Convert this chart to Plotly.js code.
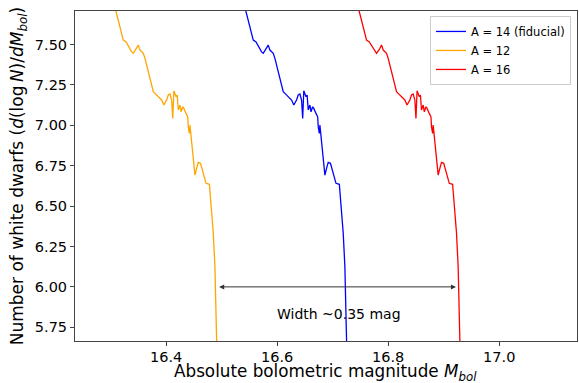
<!DOCTYPE html>
<html>
<head>
<meta charset="utf-8">
<script src="https://cdn.plot.ly/plotly-3.0.1.min.js"></script>
<style>html,body{margin:0;padding:0;background:#fff;}#chart{width:579px;height:383px;}</style>
</head>
<body>
<div id="chart"></div>
<script>
// Luminosity function curves (M_bol, d(logN)/dM_bol)
const yVals = [7.757,7.528,7.517,7.455,7.446,7.470,7.497,7.466,7.446,7.415,7.332,7.291,7.260,7.208,7.198,7.177,7.157,7.126,7.157,7.188,7.194,7.157,7.043,7.214,7.177,7.188,7.095,7.126,7.084,7.115,7.105,7.074,7.053,6.991,6.950,7.002,6.889,6.785,6.692,6.734,6.771,6.765,6.703,6.641,6.635,6.542,6.476,6.334,6.125,5.919,5.600];

const xA12 = [16.306,16.323,16.328,16.338,16.341,16.346,16.350,16.353,16.359,16.362,16.368,16.371,16.374,16.377,16.380,16.386,16.392,16.396,16.401,16.404,16.407,16.410,16.412,16.414,16.418,16.420,16.422,16.425,16.427,16.430,16.432,16.436,16.439,16.440,16.442,16.443,16.446,16.449,16.452,16.455,16.458,16.462,16.467,16.472,16.478,16.4805,16.482,16.485,16.488,16.490,16.4915];
const yA12 = yVals;

const xA14 = [16.540,16.557,16.562,16.572,16.575,16.580,16.584,16.587,16.593,16.596,16.602,16.605,16.608,16.611,16.614,16.620,16.626,16.630,16.635,16.638,16.641,16.644,16.646,16.648,16.652,16.654,16.656,16.659,16.661,16.664,16.666,16.670,16.673,16.674,16.676,16.677,16.680,16.683,16.686,16.689,16.692,16.696,16.701,16.706,16.712,16.7145,16.716,16.719,16.722,16.724,16.7255];
const yA14 = yVals;

const xA16 = [16.744,16.761,16.766,16.776,16.779,16.784,16.788,16.791,16.797,16.800,16.806,16.809,16.812,16.815,16.818,16.824,16.830,16.834,16.839,16.842,16.845,16.848,16.850,16.852,16.856,16.858,16.860,16.863,16.865,16.868,16.870,16.874,16.877,16.878,16.880,16.881,16.884,16.887,16.890,16.893,16.896,16.900,16.905,16.910,16.916,16.9185,16.920,16.923,16.926,16.928,16.9295];
const yA16 = yVals;

const seriesNames = ["A = 14 (fiducial)", "A = 12", "A = 16"];
const arrowX = [16.493, 16.922];
const arrowY = 6.00;
const widthLabel = "Width ~0.35 mag";
const widthLabelPos = [16.712, 5.830];
const xTitle = "Absolute bolometric magnitude <i>M</i><sub><i>bol</i></sub>";
const yTitle = "Number of white dwarfs (<i>d</i>(log\u2009<i>N</i>)/<i>dM</i><sub><i>bol</i></sub>)";

const font = "DejaVu Sans, Verdana, sans-serif";

const traces = [
  {x: xA14, y: yA14, name: seriesNames[0], mode: "lines", line: {color: "#0000ff", width: 1.3}},
  {x: xA12, y: yA12, name: seriesNames[1], mode: "lines", line: {color: "#ffa500", width: 1.3}},
  {x: xA16, y: yA16, name: seriesNames[2], mode: "lines", line: {color: "#ff0000", width: 1.3}}
];

const layout = {
  width: 579, height: 383,
  margin: {l: 75, r: 2, t: 11, b: 42},
  paper_bgcolor: "#fff", plot_bgcolor: "#fff",
  font: {family: font, color: "#000", size: 14.5},
  showlegend: true,
  legend: {x: 0.988, y: 0.985, xanchor: "right", yanchor: "top",
    bgcolor: "rgba(255,255,255,0.8)", bordercolor: "#cccccc", borderwidth: 1,
    font: {family: font, size: 11.5, color: "#000"}, tracegroupgap: 0},
  xaxis: {
    range: [16.236, 17.14], tick0: 16.4, dtick: 0.2, tickformat: ".1f",
    showgrid: false, zeroline: false, showline: true, mirror: true,
    linecolor: "#444", linewidth: 1, ticks: "outside", ticklen: 4, tickcolor: "#444",
    ticklabelstandoff: -1,
    tickfont: {family: font, size: 14.5, color: "#000"}
  },
  yaxis: {
    range: [5.665, 7.708], tick0: 5.75, dtick: 0.25, tickformat: ".2f",
    showgrid: false, zeroline: false, showline: true, mirror: true,
    linecolor: "#444", linewidth: 1, ticks: "outside", ticklen: 4, tickcolor: "#444",
    tickfont: {family: font, size: 14.5, color: "#000"},
    title: {text: yTitle, font: {family: font, size: 17, color: "#000"}, standoff: 6}
  },
  annotations: [
    {x: arrowX[1], y: arrowY, ax: arrowX[0], ay: arrowY, xref: "x", yref: "y", axref: "x", ayref: "y",
     text: "", showarrow: true, arrowside: "end+start", arrowhead: 2, arrowsize: 1, arrowwidth: 1, arrowcolor: "#333", standoff: 0, startstandoff: 0},
    {x: widthLabelPos[0], y: widthLabelPos[1], xref: "x", yref: "y", text: widthLabel, showarrow: false,
     font: {family: font, size: 14, color: "#000"}},
    {x: 0.499, y: -0.095, xref: "paper", yref: "paper", xanchor: "center", yanchor: "middle",
     text: xTitle, showarrow: false, font: {family: font, size: 16.8, color: "#000"}}
  ]
};

Plotly.newPlot("chart", traces, layout, {displayModeBar: false, staticPlot: true});
</script>
</body>
</html>
